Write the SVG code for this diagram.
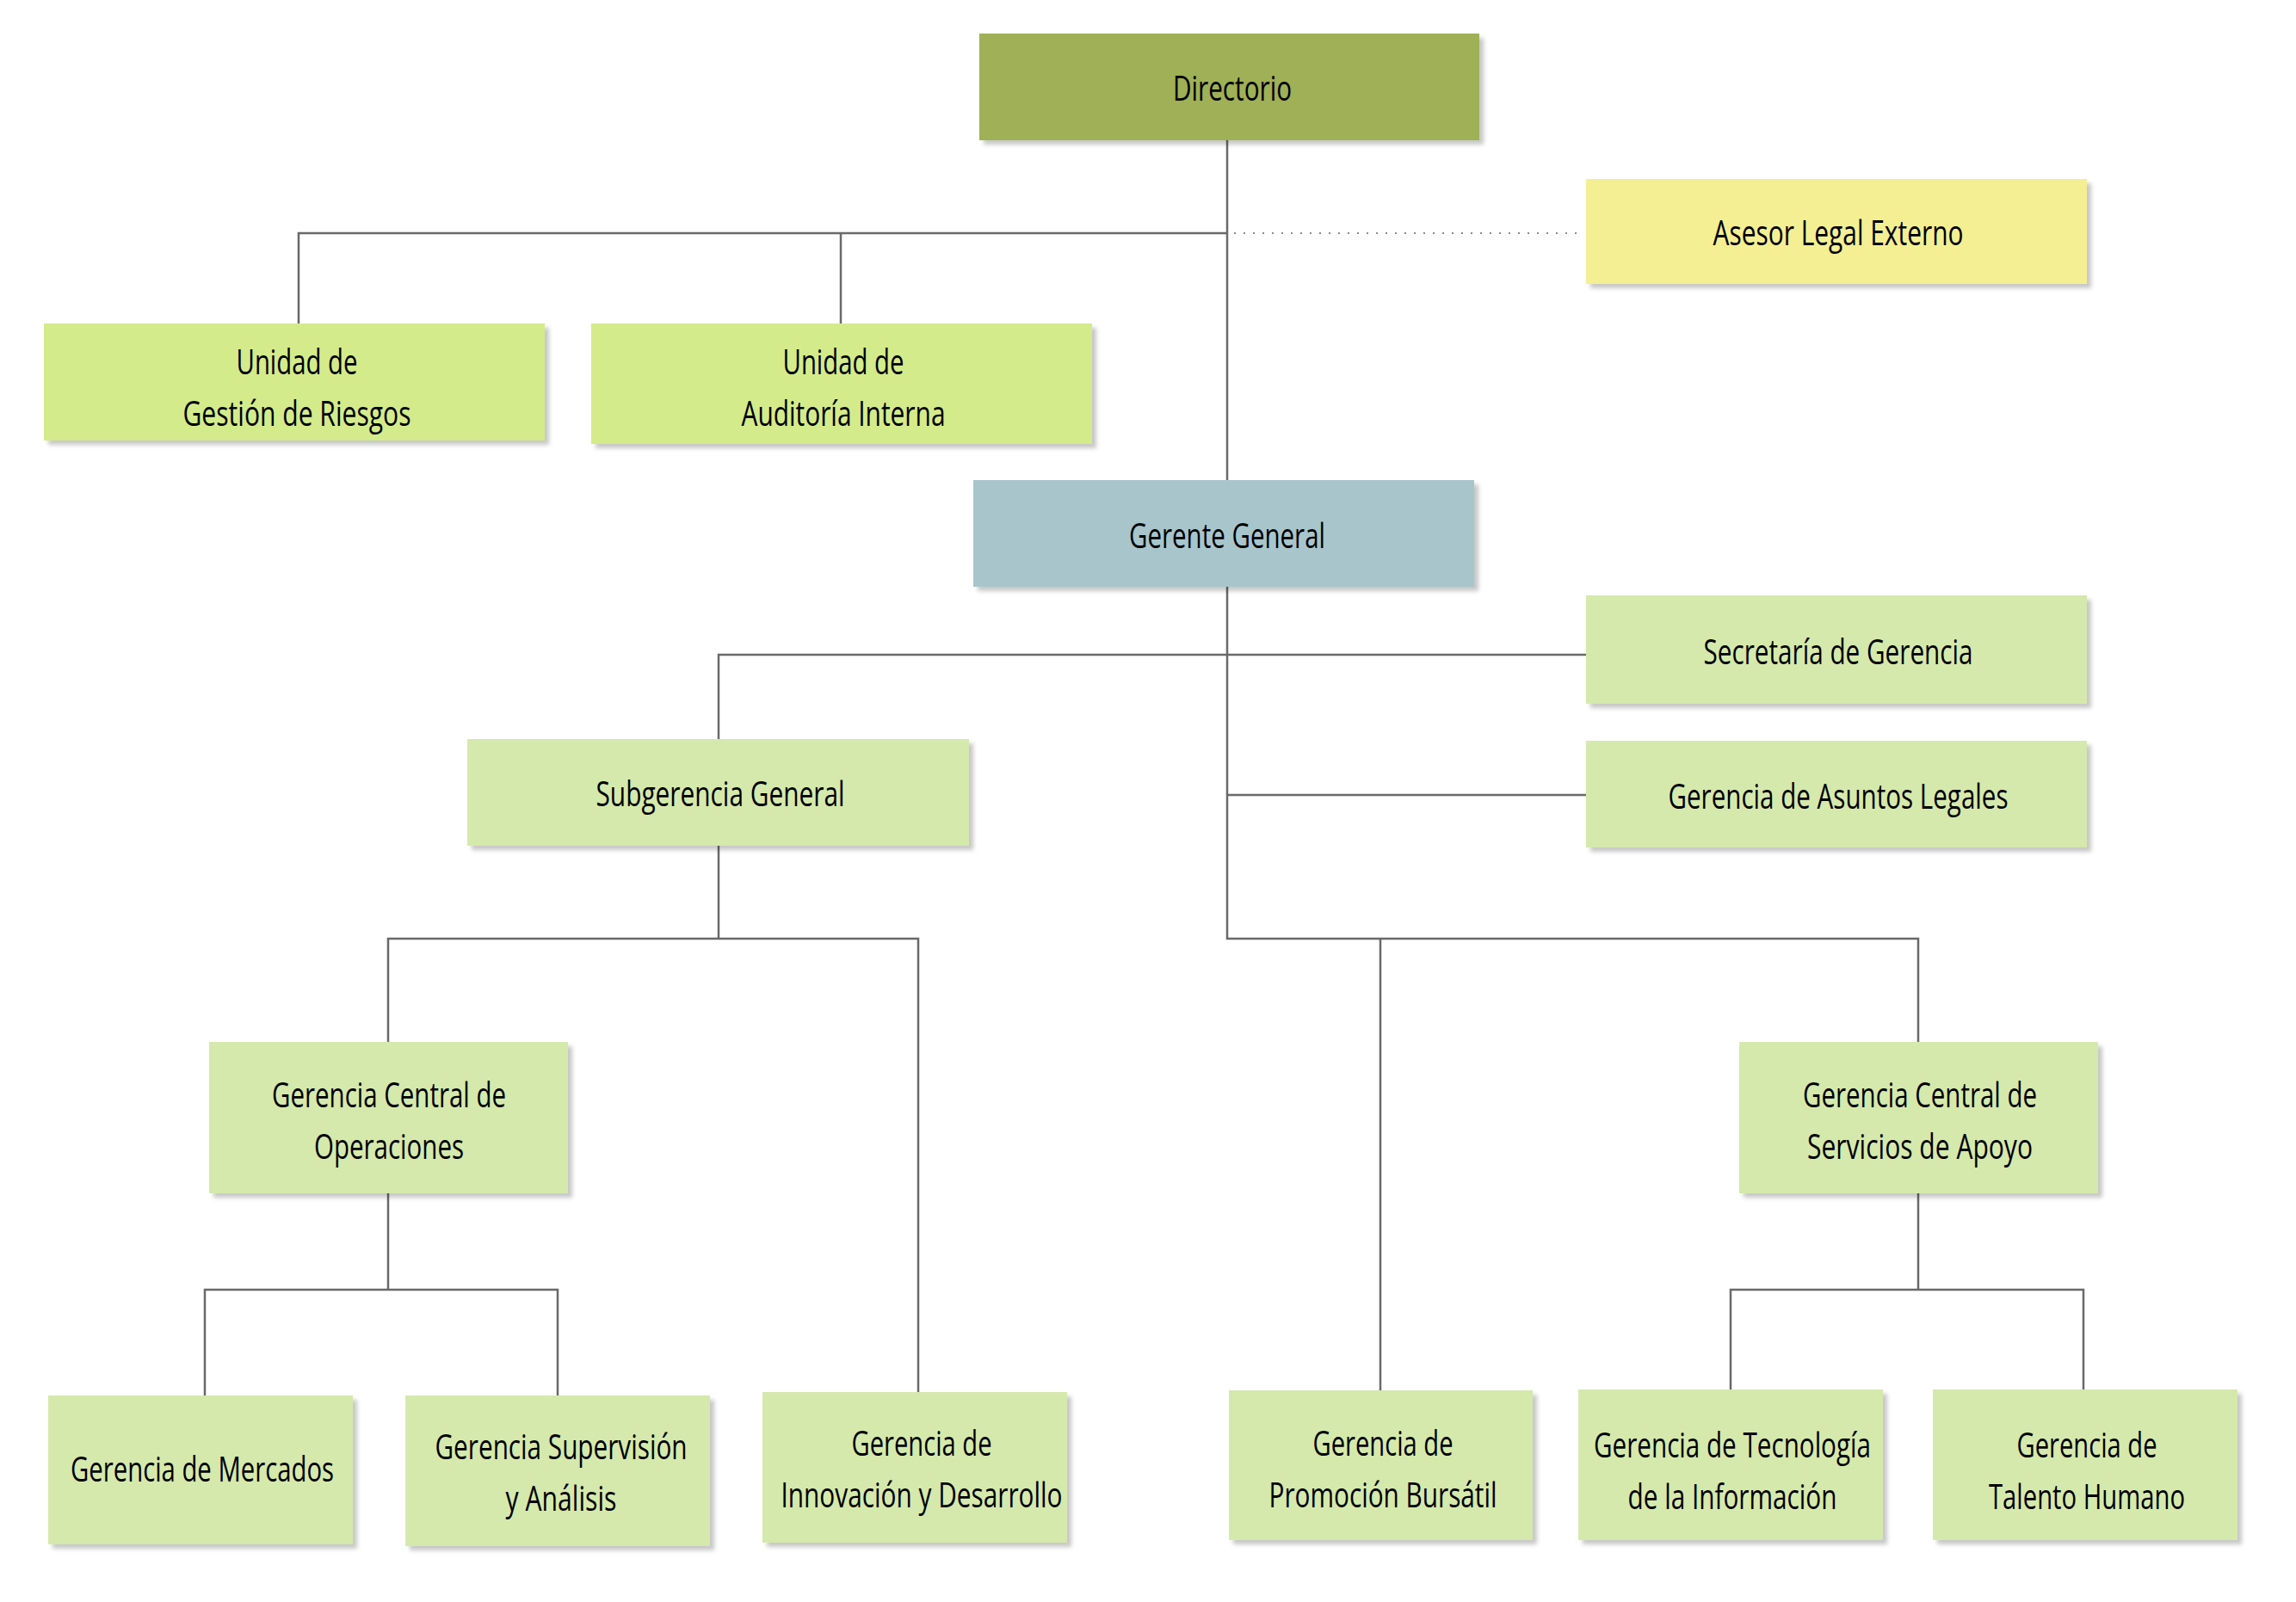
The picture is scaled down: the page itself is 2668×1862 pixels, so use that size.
<svg xmlns="http://www.w3.org/2000/svg" width="2668" height="1862" viewBox="0 0 2668 1862">
<defs>
<filter id="sh" x="-5%" y="-10%" width="115%" height="130%">
<feDropShadow dx="5" dy="5" stdDeviation="2.5" flood-color="#000" flood-opacity="0.22"/>
</filter>
<style>
.box{filter:url(#sh)}
.dir{fill:#9fb056}
.ase{fill:#f4ef93}
.uni{fill:#d4eb8b}
.ger{fill:#a8c5cc}
.std{fill:#d5e9ac}
text{font-family:"Open Sans","DejaVu Sans Condensed",sans-serif;font-size:40px;fill:#000;text-anchor:middle}
.ln{stroke:#696969;stroke-width:2.5;fill:none}
.dot{stroke:#8a8a8a;stroke-width:2;stroke-dasharray:2 9;fill:none}
</style>
</defs>
<rect width="2668" height="1862" fill="#fff"/>
<g id="connectors">
<path class="ln" d="M1426 163V558"/>
<path class="ln" d="M347 376V271H1426"/>
<path class="ln" d="M977 271V376"/>
<path class="dot" d="M1434 271H1836"/>
<path class="ln" d="M1426 682V1091H2229V1211"/>
<path class="ln" d="M835 859V761H1843"/>
<path class="ln" d="M1426 924H1843"/>
<path class="ln" d="M1604 1091V1616"/>
<path class="ln" d="M835 983V1091"/>
<path class="ln" d="M451 1211V1091H1067V1618"/>
<path class="ln" d="M451 1387V1499"/>
<path class="ln" d="M238 1622V1499H648V1622"/>
<path class="ln" d="M2229 1387V1499"/>
<path class="ln" d="M2011 1615V1499H2421V1615"/>
</g>
<g id="directorio"><rect class="box dir" x="1138" y="39" width="581" height="124"/><text x="1432" y="117" textLength="138" lengthAdjust="spacingAndGlyphs">Directorio</text></g>
<g id="asesor"><rect class="box ase" x="1843" y="208" width="582" height="122"/><text x="2136" y="285" textLength="291" lengthAdjust="spacingAndGlyphs">Asesor Legal Externo</text></g>
<g id="riesgos"><rect class="box uni" x="51" y="376" width="582" height="136"/><text x="345" y="435" textLength="141" lengthAdjust="spacingAndGlyphs">Unidad de</text><text x="345" y="495" textLength="265" lengthAdjust="spacingAndGlyphs">Gestión de Riesgos</text></g>
<g id="auditoria"><rect class="box uni" x="687" y="376" width="582" height="140"/><text x="980" y="435" textLength="141" lengthAdjust="spacingAndGlyphs">Unidad de</text><text x="980" y="495" textLength="237" lengthAdjust="spacingAndGlyphs">Auditoría Interna</text></g>
<g id="gerente"><rect class="box ger" x="1131" y="558" width="582" height="124"/><text x="1426" y="637" textLength="228" lengthAdjust="spacingAndGlyphs">Gerente General</text></g>
<g id="secretaria"><rect class="box std" x="1843" y="692" width="582" height="126"/><text x="2136" y="772" textLength="313" lengthAdjust="spacingAndGlyphs">Secretaría de Gerencia</text></g>
<g id="subgerencia"><rect class="box std" x="543" y="859" width="583" height="124"/><text x="837" y="937" textLength="289" lengthAdjust="spacingAndGlyphs">Subgerencia General</text></g>
<g id="legales"><rect class="box std" x="1843" y="861" width="582" height="124"/><text x="2136" y="940" textLength="395" lengthAdjust="spacingAndGlyphs">Gerencia de Asuntos Legales</text></g>
<g id="operaciones"><rect class="box std" x="243" y="1211" width="417" height="176"/><text x="452" y="1287" textLength="272" lengthAdjust="spacingAndGlyphs">Gerencia Central de</text><text x="452" y="1347" textLength="174" lengthAdjust="spacingAndGlyphs">Operaciones</text></g>
<g id="servicios"><rect class="box std" x="2021" y="1211" width="417" height="176"/><text x="2231" y="1287" textLength="272" lengthAdjust="spacingAndGlyphs">Gerencia Central de</text><text x="2231" y="1347" textLength="262" lengthAdjust="spacingAndGlyphs">Servicios de Apoyo</text></g>
<g id="mercados"><rect class="box std" x="56" y="1622" width="354" height="173"/><text x="235" y="1722" textLength="306" lengthAdjust="spacingAndGlyphs">Gerencia de Mercados</text></g>
<g id="supervision"><rect class="box std" x="471" y="1622" width="354" height="175"/><text x="652" y="1696" textLength="293" lengthAdjust="spacingAndGlyphs">Gerencia Supervisión</text><text x="652" y="1756" textLength="129" lengthAdjust="spacingAndGlyphs">y Análisis</text></g>
<g id="innovacion"><rect class="box std" x="886" y="1618" width="354" height="175"/><text x="1071" y="1692" textLength="163" lengthAdjust="spacingAndGlyphs">Gerencia de</text><text x="1071" y="1752" textLength="327" lengthAdjust="spacingAndGlyphs">Innovación y Desarrollo</text></g>
<g id="promocion"><rect class="box std" x="1428" y="1616" width="353" height="174"/><text x="1607" y="1692" textLength="163" lengthAdjust="spacingAndGlyphs">Gerencia de</text><text x="1607" y="1752" textLength="265" lengthAdjust="spacingAndGlyphs">Promoción Bursátil</text></g>
<g id="tecnologia"><rect class="box std" x="1834" y="1615" width="354" height="175"/><text x="2013" y="1694" textLength="322" lengthAdjust="spacingAndGlyphs">Gerencia de Tecnología</text><text x="2013" y="1754" textLength="243" lengthAdjust="spacingAndGlyphs">de la Información</text></g>
<g id="talento"><rect class="box std" x="2246" y="1615" width="354" height="175"/><text x="2425" y="1694" textLength="163" lengthAdjust="spacingAndGlyphs">Gerencia de</text><text x="2425" y="1754" textLength="228" lengthAdjust="spacingAndGlyphs">Talento Humano</text></g>
</svg>
